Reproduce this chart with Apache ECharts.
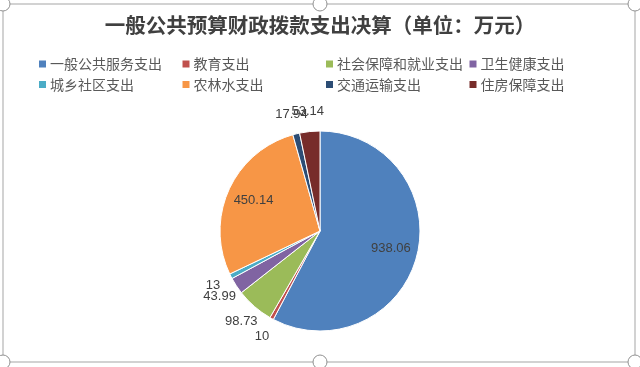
<!DOCTYPE html>
<html><head><meta charset="utf-8">
<script src="https://cdn.jsdelivr.net/npm/echarts@6/dist/echarts.min.js"></script>
<style>html,body{margin:0;padding:0;background:#fff}#c{width:640px;height:367px}</style>
</head><body><div id="c"></div>
<script>
const titleText = '一般公共预算财政拨款支出决算（单位：万元）';
const categories = ['一般公共服务支出','教育支出','社会保障和就业支出','卫生健康支出','城乡社区支出','农林水支出','交通运输支出','住房保障支出'];
const values = [938.06, 10, 98.73, 43.99, 13, 450.14, 17.94, 53.14];
const labelText = ['938.06','10','98.73','43.99','13','450.14','17.94','53.14'];
const insideLabel = [true,false,false,false,false,true,false,false];
const colors = ['#4F81BD','#C0504D','#9BBB59','#8064A2','#4BACC6','#F79646','#2C4D75','#772C2A'];

const chart = echarts.init(document.getElementById('c'), null, {renderer:'canvas'});
const center = [320, 231];
const labelStyle = {color:'#404040', fontSize:13, fontFamily:'Liberation Sans, Arial, sans-serif'};
function overlay(radius, pick){
  return {
    type:'pie', center, radius, silent:true, startAngle:90, clockwise:true,
    avoidLabelOverlap:false, animation:false, emphasis:{disabled:true},
    labelLayout:{hideOverlap:false},
    itemStyle:{color:'rgba(0,0,0,0)', borderWidth:0},
    labelLine:{show:false},
    data: categories.map((n,i)=>({name:n, value:values[i],
      label:{show:pick(i), position:'inside', formatter:labelText[i], ...labelStyle}}))
  };
}
const legends = categories.map((n,i)=>({
  data:[n], left: 39 + (i%4)*143.5, top: 57 + Math.floor(i/4)*20.5,
  itemWidth:7, itemHeight:7, icon:'rect', padding:0, itemGap:0,
  textStyle:{fontSize:14, color:'#595959', fontFamily:'Noto Sans CJK SC', padding:[0,0,0,-1]},
  itemStyle:{borderWidth:0}
}));
const handles = [[3,4],[320,4],[635,4],[3,362],[320,362],[635,362]];
chart.setOption({
  animation:false,
  color: colors,
  title:{text:titleText, left:'center', top:10,
    textStyle:{fontSize:20.5, fontWeight:'bold', color:'#404040', fontFamily:'Noto Sans CJK SC'}},
  legend: legends,
  graphic:{elements:[
    {type:'rect', z:50, shape:{x:3, y:4, width:632, height:358}, style:{fill:null, stroke:'#c4c4c4', lineWidth:1.5}},
    ...handles.map(h=>({type:'circle', z:100, shape:{cx:h[0], cy:h[1], r:7}, style:{fill:'#ffffff', stroke:'#909090', lineWidth:1}}))
  ]},
  series:[
    {type:'pie', center, radius:[0,100], startAngle:90, clockwise:true, animation:false,
      label:{show:false}, labelLine:{show:false},
      itemStyle:{borderColor:'#fff', borderWidth:1},
      data: categories.map((n,i)=>({name:n, value:values[i]}))},
    overlay([40,100], i=>insideLabel[i]),
    overlay([102,132], i=>!insideLabel[i])
  ]
});
</script></body></html>
